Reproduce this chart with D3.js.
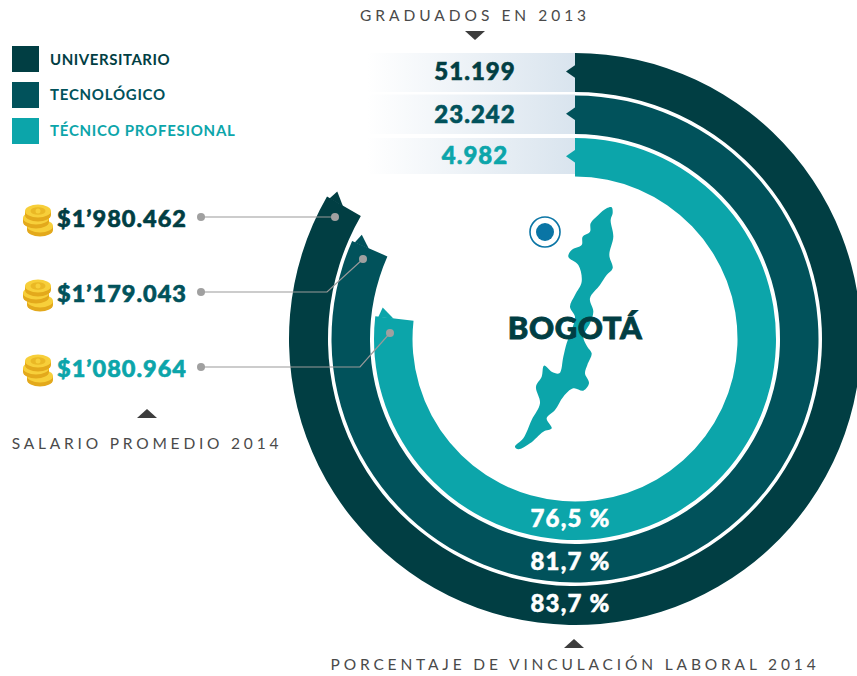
<!DOCTYPE html>
<html><head><meta charset="utf-8">
<script src="https://cdn.jsdelivr.net/npm/d3@7"></script>
<style>html,body{margin:0;padding:0;background:#fff;overflow:hidden}svg{display:block}text{font-family:Lato,sans-serif}</style>
</head><body><svg id="c" width="857" height="676"></svg>
<script>
const categories=["UNIVERSITARIO","TECNOLÓGICO","TÉCNICO PROFESIONAL"];
const vinculacion=[83.3,81.6,76.8]; // arc ends as drawn in the picture
const vinculacionLabels=["83,7 %","81,7 %","76,5 %"];
const graduados=["51.199","23.242","4.982"];
const salarios=["$1’980.462","$1’179.043","$1’080.964"];
const colors=["#013e43","#01525b","#0ca5aa"];
const outerR=[286,243.5,201], innerR=[247,205,162.5];
const cx=575, cy=339;
const mapOutline=[[335,22],[338,40],[332,60],[340,110],[328,165],[338,205],[320,225],[300,255],[270,295],[280,335],[270,370],[250,410],[262,440],[275,460],[262,495],[255,520],[267,550],[250,572],[220,565],[190,590],[165,630],[140,655],[155,685],[130,695],[90,730],[55,748],[45,740],[70,715],[95,660],[120,610],[108,560],[125,530],[132,497],[155,515],[178,520],[190,470],[200,430],[215,390],[225,350],[210,320],[225,285],[245,245],[235,195],[205,170],[215,150],[245,135],[248,110],[270,95],[272,70],[295,45],[320,25]];

const svg=d3.select("#c");
const defs=svg.append("defs");
const g=defs.append("linearGradient").attr("id","fade");
g.append("stop").attr("offset","0").attr("stop-color","#fff");
g.append("stop").attr("offset","1").attr("stop-color","#d9e4ee");

const angle=d3.scaleLinear().domain([0,100]).range([0,2*Math.PI]);
const polar=(r,a)=>[cx+r*Math.sin(a),cy-r*Math.cos(a)];
const heavy=(s,c,w)=>s.attr("fill",c).attr("stroke",c).attr("stroke-width",w).attr("paint-order","stroke");

const rows=[[53,92],[94.5,134],[138,174]];
rows.forEach(([a,b])=>svg.append("rect").attr("x",367).attr("y",a).attr("width",208).attr("height",b-a).attr("fill","url(#fade)"));

const arc=d3.arc();
vinculacion.forEach((v,i)=>{
  const end=angle(v), mid=(outerR[i]+innerR[i])/2, w=outerR[i]-innerR[i];
  svg.append("path").attr("transform",`translate(${cx},${cy})`)
    .attr("d",arc({innerRadius:innerR[i],outerRadius:outerR[i],startAngle:0,endAngle:end})).attr("fill",colors[i]);
  const a0=polar(mid+w*0.02,end-0.002), a1=polar(mid+w*0.42,end-0.002);
  const tip=polar(mid+w*0.34,end+9/mid);
  svg.append("path").attr("d",d3.line()([a0,tip,a1])+"Z").attr("fill",colors[i]);
  const ys=cy-mid-1;
  svg.append("path").attr("d",d3.line()([[cx+1,ys-7],[cx-9,ys],[cx+1,ys+7]])+"Z").attr("fill",colors[i]);
  svg.append("text").attr("x",570.5).attr("y",cy+mid+6.5).attr("text-anchor","middle")
    .call(heavy,"#fff",0.5).attr("font-size",24).attr("font-weight",900).attr("letter-spacing",1.2).text(vinculacionLabels[i]);
  svg.append("text").attr("x",475).attr("y",[80,123,164][i]).attr("text-anchor","middle")
    .call(heavy,colors[i],0.6).attr("font-size",24).attr("font-weight",900).attr("letter-spacing",1).text(graduados[i]);
});

categories.forEach((c,i)=>{
  const y=[46,82,118][i];
  svg.append("rect").attr("x",12).attr("y",y).attr("width",27).attr("height",26).attr("fill",colors[i]);
  svg.append("text").attr("x",50).attr("y",y+[19,18,18][i]).attr("fill",colors[i]).attr("font-size",15).attr("font-weight",700).attr("letter-spacing",[0.55,0.75,0.75][i]).text(c);
});

const rowY=[217,292,367];
const elbow=[null,[327,292],[360,367]];
const ends=[[335,217],[363,259],[390,333]];
vinculacion.forEach((v,i)=>{
  const pts=[[201,rowY[i]]]; if(elbow[i])pts.push(elbow[i]); pts.push(ends[i]);
  svg.append("path").attr("d",d3.line()(pts)).attr("fill","none").attr("stroke","#999").attr("stroke-width",1.2);
  [pts[0],pts[pts.length-1]].forEach(p=>svg.append("circle").attr("cx",p[0]).attr("cy",p[1]).attr("r",4).attr("fill","#a0a0a0"));
  svg.append("text").attr("x",57).attr("y",rowY[i]+9.5).call(heavy,colors[i],0.6).attr("font-size",23.5).attr("font-weight",900).attr("letter-spacing",1).text(salarios[i]);
  const c=svg.append("g").attr("transform",`translate(38,${rowY[i]+2})`);
  [[2,8],[-2,0],[0,-7]].forEach(([dx,dy])=>{
    c.append("ellipse").attr("cx",dx).attr("cy",dy+3).attr("rx",13).attr("ry",6.5).attr("fill","#e3a91c");
    c.append("rect").attr("x",dx-13).attr("y",dy-1).attr("width",26).attr("height",4).attr("fill","#e3a91c");
    c.append("ellipse").attr("cx",dx).attr("cy",dy-1).attr("rx",13).attr("ry",6.5).attr("fill","#f7cf3a");
  });
  c.append("ellipse").attr("cx",0).attr("cy",-8).attr("rx",7.5).attr("ry",3.8).attr("fill","#eab825");
  c.append("circle").attr("cx",0).attr("cy",-8).attr("r",2.5).attr("fill","#f7cf3a");
});

svg.append("path").attr("transform","translate(500,200) scale(0.3333)")
  .attr("d",d3.line().curve(d3.curveCatmullRomClosed.alpha(0.5))(mapOutline)).attr("fill","#0ca5aa");
svg.append("circle").attr("cx",545).attr("cy",232).attr("r",15).attr("fill","none").attr("stroke","#0a75a5").attr("stroke-width",1.6);
svg.append("circle").attr("cx",545).attr("cy",232).attr("r",9).attr("fill","#0a75a5");
svg.append("text").attr("x",575).attr("y",339).attr("text-anchor","middle").call(heavy,"#013e43",0.9).attr("font-size",31).attr("font-weight",900).attr("letter-spacing",0.6).text("BOGOTÁ");

const cap=(x,y,t,ls,fs)=>svg.append("text").attr("x",x).attr("y",y).attr("text-anchor","middle").attr("fill","#4a4a4a").attr("font-size",fs).attr("letter-spacing",ls).text(t);
cap(475,21,"GRADUADOS EN 2013",4,15.5);
cap(147,449,"SALARIO PROMEDIO 2014",3.8,15.5);
cap(575,670,"PORCENTAJE DE VINCULACIÓN LABORAL 2014",3.85,15.5);
const tri=(x,y,dir)=>svg.append("path").attr("d",d3.line()([[x-10,y],[x+10,y],[x,y+dir*9]])+"Z").attr("fill","#3d3d3d");
tri(475,31,1); tri(147,418,-1); tri(574,648,-1);
</script></body></html>
